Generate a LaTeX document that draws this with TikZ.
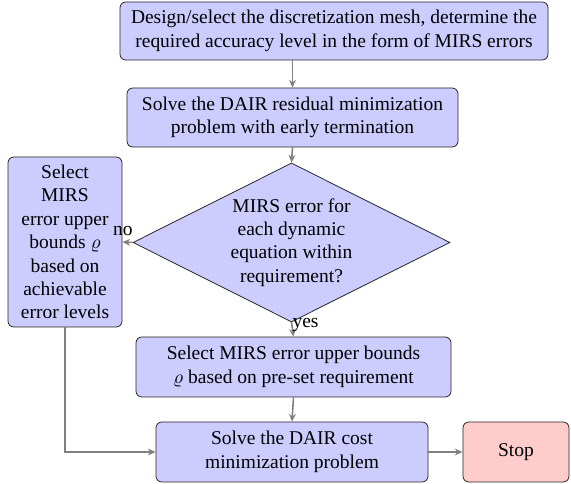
\documentclass[tikz,border=0pt]{standalone}
\usepackage{fontspec}
\setmainfont{Liberation Serif}
\usetikzlibrary{shapes.geometric,arrows.meta}
\begin{document}
\begin{tikzpicture}[x=0.513pt,y=-0.513pt,
  txt/.style={font=\fontsize{10}{12}\selectfont},
  box/.style={txt, draw=black!85, line width=0.4pt, rounded corners=3pt, fill=blue!20, align=center, inner sep=2pt},
  stopbox/.style={box, fill=red!20},
  dec/.style={txt, draw=black!85, line width=0.4pt, fill=blue!20, diamond, aspect=2, align=center, inner sep=1pt},
  arr/.style={draw=gray, line width=0.8pt, -{Stealth[length=4pt,width=3.5pt]}},
  lbl/.style={txt, inner sep=1pt}]
\useasboundingbox (0,0) rectangle (571,484);
\node[box, minimum width={428*0.513pt}, minimum height={58*0.513pt}] (b1) at (334,31) {Design/select the discretization mesh, determine the\\required accuracy level in the form of MIRS errors};
\node[box, minimum width={331*0.513pt}, minimum height={59*0.513pt}] (b2) at (292.5,117.5) {Solve the DAIR residual minimization\\problem with early termination};
\node[dec, minimum width={317*0.513pt}, minimum height={159*0.513pt}] (d) at (291.5,242.5) {MIRS error for\\each dynamic\\equation within\\requirement?};
\node[box, minimum width={114*0.513pt}, minimum height={170*0.513pt}] (l) at (65,242) {Select\\MIRS\\error upper\\bounds $\varrho$\\based on\\achievable\\error levels};
\node[box, minimum width={315*0.513pt}, minimum height={60*0.513pt}] (b3) at (293.5,367) {Select MIRS error upper bounds\\$\varrho$ based on pre-set requirement};
\node[box, minimum width={272*0.513pt}, minimum height={60*0.513pt}] (b4) at (292,452) {Solve the DAIR cost\\minimization problem};
\node[stopbox, minimum width={106*0.513pt}, minimum height={60*0.513pt}] (s) at (516,452) {Stop};
\draw[arr] (b2.north |- b1.south) -- (b2.north);
\draw[arr] (b2.south) -- (d.north);
\draw[arr] (d.south) -- node[lbl, pos=0.15, right, xshift=-1pt] {yes} (b3.north);
\draw[arr] (d.west) -- node[lbl, pos=0.95, above, yshift=2pt] {no} (l.east);
\draw[arr] (b3.south) -- (b4.north);
\draw[arr] (l.south) |- (b4.west);
\draw[arr] (b4.east) -- (s.west);
\end{tikzpicture}
\end{document}
